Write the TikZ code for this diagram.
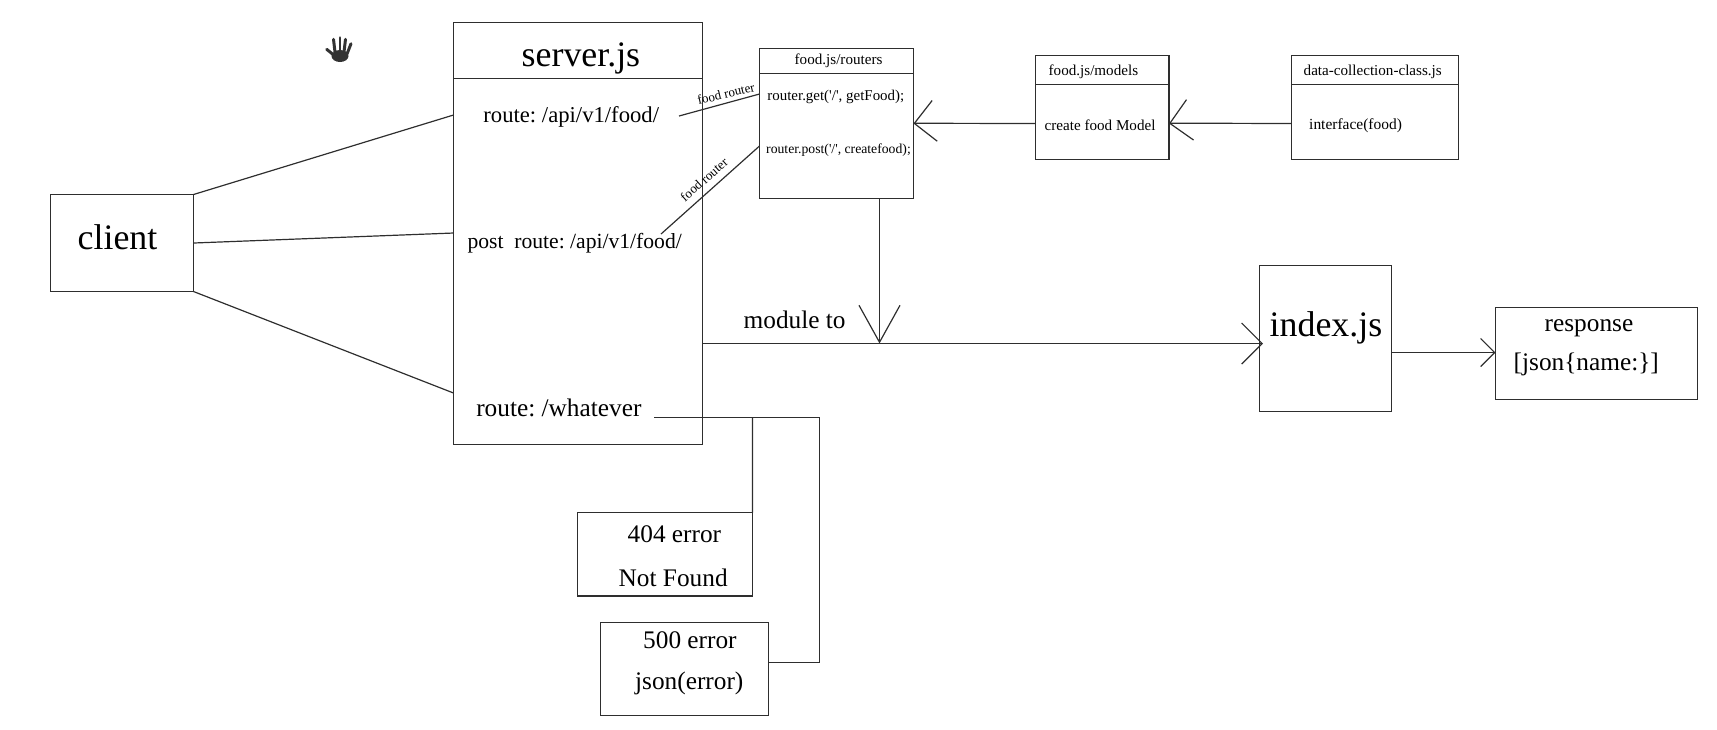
\documentclass[tikz,border=0pt]{standalone}
\usepackage{fontspec}
\setmainfont{Liberation Serif}
\usetikzlibrary{arrows.meta}
\definecolor{linegray}{gray}{0.18}
\frenchspacing
\tikzset{
	box/.style={draw=linegray,line width=0.34pt,inner sep=0pt,outer sep=0pt,anchor=north west},
	link/.style={draw=linegray,line width=0.34pt},
	openarrow/.style={link,-{Straight Barb[length=2.05mm,width=4.1mm]}},
	smallarrow/.style={link,-{Straight Barb[length=1.4mm,width=2.8mm]}},
	biglabel/.style={anchor=base west,inner sep=0pt,font=\fontsize{10.2}{12}\selectfont},
	midlabel/.style={anchor=base west,inner sep=0pt,font=\fontsize{7.2}{9}\selectfont},
	routelabel/.style={anchor=base west,inner sep=0pt,font=\fontsize{6.45}{8}\selectfont},
	smalllabel/.style={anchor=base west,inner sep=0pt,font=\fontsize{4.3}{5}\selectfont},
	tinylabel/.style={inner sep=0pt,font=\fontsize{3.7}{5}\selectfont}
}
\begin{document}
\begin{tikzpicture}
	\useasboundingbox (0,0) rectangle (17.17,-7.29);
	% boxes
	\node[box,minimum width=1.43cm,minimum height=0.97cm] (client) at (0.505,-1.945) {};
	\node[box,minimum width=2.49cm,minimum height=0.56cm] (serverhead) at (4.535,-0.225) {};
	\node[box,minimum width=2.49cm,minimum height=3.66cm] (serverbody) at (4.535,-0.785) {};
	\node[box,minimum width=1.54cm,minimum height=0.25cm] (routershead) at (7.595,-0.485) {};
	\node[box,minimum width=1.54cm,minimum height=1.25cm] (routersbody) at (7.595,-0.735) {};
	\node[box,minimum width=1.335cm,minimum height=0.29cm] (modelshead) at (10.355,-0.555) {};
	\node[box,minimum width=1.335cm,minimum height=0.75cm] (modelsbody) at (10.355,-0.845) {};
	\node[box,minimum width=1.67cm,minimum height=0.29cm] (datahead) at (12.915,-0.555) {};
	\node[box,minimum width=1.67cm,minimum height=0.75cm] (databody) at (12.915,-0.845) {};
	\node[box,minimum width=1.32cm,minimum height=1.46cm] (index) at (12.595,-2.655) {};
	\node[box,minimum width=2.02cm,minimum height=0.92cm] (response) at (14.955,-3.075) {};
	\node[box,minimum width=1.75cm,minimum height=0.835cm] (notfound) at (5.775,-5.125) {};
	\node[box,minimum width=1.68cm,minimum height=0.93cm] (jsonerror) at (6.005,-6.225) {};
	% free ends of the connectors
	\coordinate (serverapi) at (4.535,-1.15);
	\coordinate (serverpost) at (4.535,-2.33);
	\coordinate (serverany) at (4.535,-3.93);
	\coordinate (apiend) at (6.79,-1.16);
	\coordinate (postend) at (6.61,-2.34);
	\coordinate (routersgetin) at (7.595,-0.94);
	\coordinate (routerspostin) at (7.595,-1.46);
	\coordinate (routersmodel) at (9.135,-1.235);
	\coordinate (routersbend) at (9.155,-1.2325);
	\coordinate (modelsin) at (10.355,-1.235);
	\coordinate (modelsout) at (11.69,-1.235);
	\coordinate (modelsbend) at (11.71,-1.2315);
	\coordinate (datain) at (12.915,-1.235);
	\coordinate (routersout) at (8.795,-1.985);
	\coordinate (modulejoin) at (8.795,-3.435);
	\coordinate (moduleout) at (7.025,-3.435);
	\coordinate (indexin) at (12.63,-3.435);
	\coordinate (indexout) at (13.915,-3.525);
	\coordinate (responsein) at (14.955,-3.525);
	\coordinate (anystart) at (6.54,-4.175);
	\coordinate (anyfork) at (7.525,-4.175);
	\coordinate (anycorner) at (8.195,-4.175);
	\coordinate (anydown) at (8.195,-6.625);
	\coordinate (jsonin) at (7.685,-6.625);
	% connectors
	\draw[link] (client.north east) -- (serverapi);
	\draw[link] (client.east) -- (serverpost);
	\draw[link] (client.south east) -- (serverany);
	\draw[link] (apiend) -- (routersgetin);
	\draw[link] (postend) -- (routerspostin);
	\draw[openarrow] (modelsin) -- (routersbend) -- (routersmodel);
	\draw[openarrow] (datain) -- (modelsbend) -- (modelsout);
	\draw[link,-{Straight Barb[length=3.7mm,width=4.1mm]}] (routersout) -- (modulejoin);
	\draw[openarrow] (moduleout) -- (indexin);
	\draw[smallarrow] (indexout) -- (responsein);
	\draw[link] (anystart) -- (anycorner) -- (anydown) -- (jsonin);
	\draw[link] (anyfork) -- (notfound.north east);
	% labels
	\node[biglabel] (clientname) at (0.77,-2.49) {client};
	\node[biglabel] (servername) at (5.21,-0.66) {server.js};
	\node[routelabel] (apiroute) at (4.827,-1.22) {route: /api/v1/food/};
	\node[routelabel,font=\fontsize{6.15}{8}\selectfont] (postroute) at (4.668,-2.488) {post\ \ route: /api/v1/food/};
	\node[midlabel] (anyroute) at (4.756,-4.16) {route: /whatever};
	\node[midlabel] (moduleto) at (7.43,-3.28) {module to};
	\node[midlabel] (notfoundcode) at (6.27,-5.42) {404 error};
	\node[midlabel] (notfoundtext) at (6.18,-5.86) {Not Found};
	\node[midlabel] (jsoncode) at (6.425,-6.48) {500 error};
	\node[midlabel] (jsontext) at (6.345,-6.89) {json(error)};
	\node[tinylabel,rotate=13] (getrouter) at (7.26,-0.935) {food router};
	\node[tinylabel,rotate=41.5] (postrouter) at (7.04,-1.795) {food router};
	\node[smalllabel] (routersname) at (7.94,-0.64) {food.js/routers};
	\node[smalllabel,font=\fontsize{4.25}{5}\selectfont] (routersgettext) at (7.667,-1.0) {router.get(\textquotesingle/\textquotesingle, getFood);};
	\node[smalllabel,font=\fontsize{3.9}{5}\selectfont] (routersposttext) at (7.655,-1.535) {router.post(\textquotesingle/\textquotesingle, createfood);};
	\node[smalllabel] (modelsname) at (10.48,-0.75) {food.js/models};
	\node[smalllabel] (modelstext) at (10.44,-1.3) {create food Model};
	\node[smalllabel] (dataname) at (13.03,-0.75) {data-collection-class.js};
	\node[smalllabel,font=\fontsize{4.4}{6}\selectfont] (datatext) at (13.085,-1.29) {interface(food)};
	\node[biglabel] (indexname) at (12.69,-3.36) {index.js};
	\node[midlabel] (responsename) at (15.44,-3.31) {response};
	\node[midlabel] (responsejson) at (15.13,-3.7) {[json\{name:\}]};
	% hand
	\fill[black!80] (3.4,-0.56) ellipse (0.085 and 0.06);
	\foreach \fx/\fy/\tx/\ty in {3.35/-0.52/3.335/-0.393,3.4/-0.52/3.4/-0.377,3.44/-0.52/3.455/-0.393,3.47/-0.54/3.51/-0.437,3.35/-0.56/3.267/-0.493}
		\draw[black!80,line width=0.85pt,line cap=round] (\fx,\fy) -- (\tx,\ty);
\end{tikzpicture}
\end{document}
